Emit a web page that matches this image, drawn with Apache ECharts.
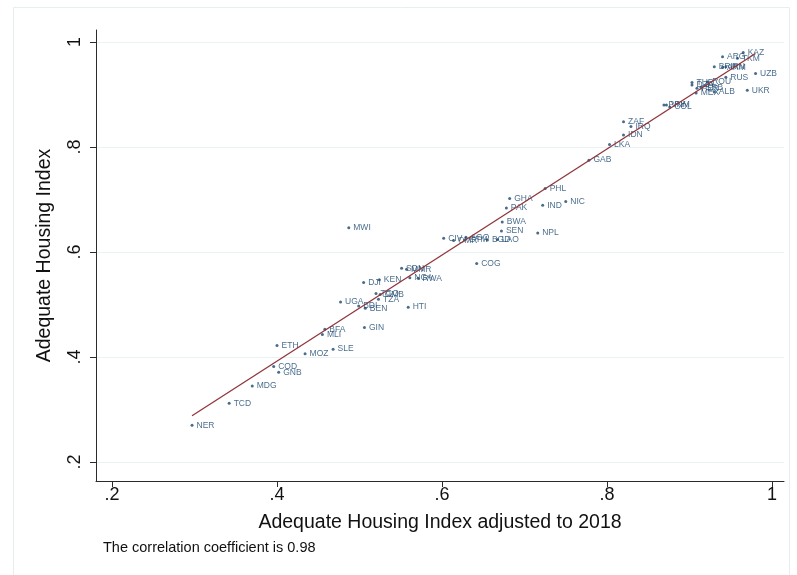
<!DOCTYPE html>
<html>
<head>
<meta charset="utf-8">
<script src="https://cdn.jsdelivr.net/npm/echarts@6/dist/echarts.min.js"></script>
<style>
  html, body { margin: 0; padding: 0; background: #ffffff; }
  #chart { width: 797px; height: 575px; }
</style>
</head>
<body>
<div id="chart"></div>
<script>
// Country codes with their index values
const countries = [
  'KAZ','TKM','ARG','BRA','ARM','IRN','RUS','UZB','UKR','ALB',
  'TUR','ROU','DZA','PER','SRB','MEX','PRY','VNM','COL',
  'ZAF','IRQ','IDN','LKA','GAB','PHL','GHA','PAK','IND','NIC',
  'BWA','SEN','NPL','BGD','LAO','CIV','AGO','CMR','GTM','COG',
  'MWI','SDN','MMR','DJI','KEN','NGA','RWA','TGO','GMB','TZA',
  'UGA','BDI','BEN','HTI','GIN','BFA','MLI','ETH','SLE','MOZ',
  'COD','GNB','MDG','TCD','NER'
];
// Adequate Housing Index adjusted to 2018 (horizontal)
const adjustedIndex = [
  0.965,0.958,0.940,0.930,0.940,0.944,0.944,0.980,0.970,0.930,
  0.903,0.922,0.903,0.909,0.914,0.908,0.869,0.872,0.876,
  0.820,0.829,0.820,0.803,0.778,0.725,0.682,0.678,0.722,0.750,
  0.673,0.672,0.716,0.655,0.667,0.602,0.629,0.614,0.627,0.642,
  0.487,0.551,0.557,0.505,0.524,0.561,0.571,0.520,0.525,0.523,
  0.477,0.499,0.507,0.559,0.506,0.458,0.455,0.400,0.468,0.434,
  0.396,0.402,0.370,0.342,0.297
];
// Adequate Housing Index (vertical)
const housingIndex = [
  0.980,0.969,0.972,0.953,0.952,0.953,0.933,0.940,0.908,0.905,
  0.923,0.924,0.918,0.912,0.914,0.903,0.880,0.880,0.876,
  0.848,0.839,0.823,0.805,0.775,0.721,0.702,0.684,0.689,0.696,
  0.657,0.640,0.636,0.623,0.624,0.626,0.628,0.622,0.623,0.578,
  0.646,0.569,0.567,0.542,0.547,0.551,0.550,0.521,0.519,0.510,
  0.505,0.497,0.493,0.495,0.456,0.453,0.443,0.422,0.415,0.406,
  0.382,0.371,0.345,0.312,0.270
];
// Linear fit end points
const fitX = [0.297, 0.980];
const fitY = [0.288, 0.978];
// Tick positions
const tickValues = [0.2, 0.4, 0.6, 0.8, 1.0];

const navy = '#1a476f';
const maroon = '#90353b';
const axisColor = '#2b2b2b';
const fontFamily = 'Liberation Sans, Arial, Helvetica, sans-serif';

const fmt = v => {
  const s = String(Math.round(v * 10) / 10);
  return s.startsWith('0.') ? s.slice(1) : s;
};

const points = countries.map((c, i) => ({ name: c, value: [adjustedIndex[i], housingIndex[i]] }));
const fitLine = fitX.map((x, i) => [x, fitY[i]]);

const chart = echarts.init(document.getElementById('chart'), null, { renderer: 'canvas' });

chart.setOption({
  backgroundColor: '#ffffff',
  animation: false,
  textStyle: { fontFamily },
  grid: { left: 96, right: 13, top: 30, bottom: 94, containLabel: false },
  graphic: [
    {
      type: 'rect',
      shape: { x: 13.5, y: 7.5, width: 776, height: 580 },
      style: { fill: null, stroke: '#e6eef0', lineWidth: 1 },
      silent: true, z: -10
    },
    {
      type: 'text',
      left: 103, top: 540,
      style: { text: 'The correlation coefficient is 0.98', fontSize: 14.5, fill: '#111', fontFamily }
    }
  ],
  xAxis: {
    type: 'value',
    min: 0.1806, max: 1.0145,
    name: 'Adequate Housing Index adjusted to 2018',
    nameLocation: 'middle', nameGap: 32,
    nameTextStyle: { fontSize: 19.5, color: '#111', fontFamily },
    axisLine: { show: true, onZero: false, lineStyle: { color: axisColor, width: 1 } },
    axisTick: { show: true, length: 6, customValues: tickValues, lineStyle: { color: axisColor } },
    axisLabel: { customValues: tickValues, formatter: fmt, fontSize: 18, color: '#111', margin: 5, fontFamily },
    splitLine: { show: false }
  },
  yAxis: {
    type: 'value',
    min: 0.1638, max: 1.0229,
    name: 'Adequate Housing Index',
    nameLocation: 'middle', nameGap: 41,
    nameTextStyle: { fontSize: 19.5, color: '#111', fontFamily },
    axisLine: { show: true, onZero: false, lineStyle: { color: axisColor, width: 1 } },
    axisTick: { show: true, length: 6, customValues: tickValues, lineStyle: { color: axisColor } },
    axisLabel: { customValues: tickValues, formatter: fmt, fontSize: 18, color: '#111', rotate: 90, margin: 12, fontFamily },
    splitLine: { show: true, lineStyle: { color: '#eaf2f3', width: 1 } }
  },
  series: [
    {
      type: 'scatter',
      data: points,
      symbol: 'circle',
      symbolSize: 3,
      itemStyle: { color: navy },
      label: {
        show: true, position: 'right', distance: 3,
        formatter: p => p.name,
        fontSize: 8.5, color: navy, fontFamily
      },
      labelLayout: { hideOverlap: false },
      z: 2
    },
    {
      type: 'line',
      data: fitLine,
      symbol: 'none',
      lineStyle: { color: maroon, width: 1.3 },
      z: 3
    }
  ]
});
</script>
</body>
</html>
